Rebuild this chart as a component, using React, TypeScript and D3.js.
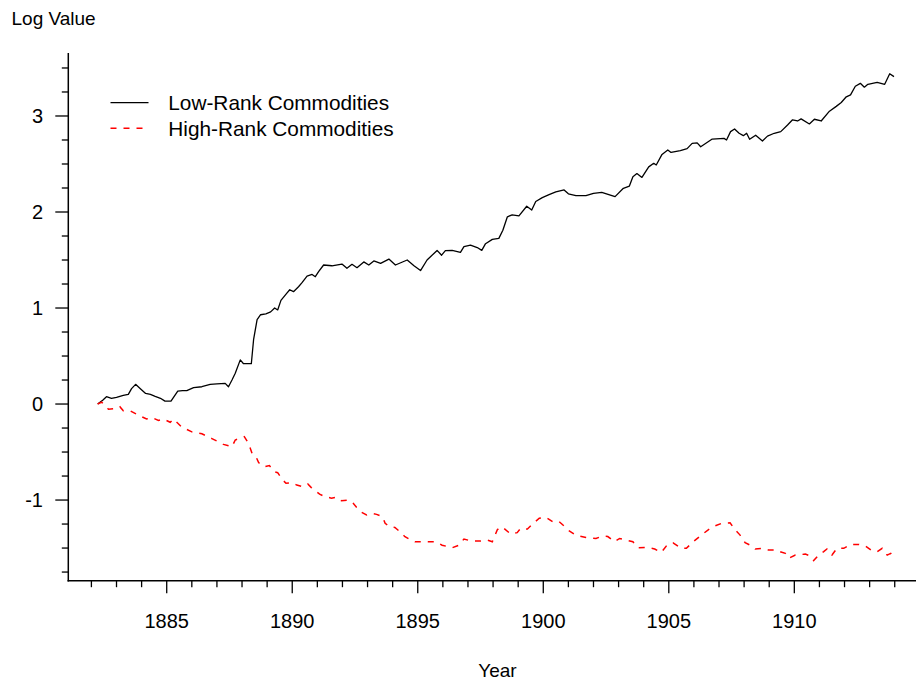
import React from "react";
import * as d3 from "d3";

const lowYears = [1882.25,1882.45,1882.6,1882.8,1883.0,1883.27,1883.47,1883.6,1883.76,1883.95,1884.16,1884.35,1884.54,1884.75,1884.93,1885.17,1885.44,1885.63,1885.8,1886.07,1886.4,1886.73,1887.0,1887.33,1887.46,1887.6,1887.73,1887.93,1888.06,1888.37,1888.46,1888.6,1888.74,1888.95,1889.14,1889.3,1889.42,1889.55,1889.77,1889.9,1890.05,1890.25,1890.39,1890.59,1890.79,1890.92,1891.05,1891.25,1891.58,1891.98,1892.18,1892.38,1892.58,1892.85,1893.05,1893.25,1893.52,1893.85,1894.11,1894.58,1894.85,1895.11,1895.37,1895.77,1895.95,1896.1,1896.37,1896.7,1896.84,1897.1,1897.37,1897.55,1897.7,1897.97,1898.23,1898.39,1898.57,1898.76,1899.03,1899.34,1899.54,1899.7,1899.96,1900.23,1900.5,1900.83,1901.0,1901.3,1901.7,1902.0,1902.33,1902.86,1903.19,1903.43,1903.57,1903.73,1903.93,1904.2,1904.4,1904.5,1904.73,1904.96,1905.09,1905.46,1905.73,1905.93,1906.13,1906.27,1906.73,1907.2,1907.3,1907.46,1907.62,1907.8,1907.97,1908.1,1908.22,1908.46,1908.73,1908.93,1909.2,1909.46,1909.73,1909.93,1910.13,1910.27,1910.6,1910.8,1911.07,1911.4,1911.67,1911.87,1912.07,1912.24,1912.43,1912.63,1912.79,1912.93,1913.3,1913.6,1913.8,1913.97];
const lowValues = [0,0.04,0.076,0.06,0.07,0.09,0.1,0.16,0.205,0.16,0.11,0.1,0.08,0.06,0.03,0.03,0.135,0.14,0.14,0.17,0.18,0.205,0.21,0.215,0.18,0.25,0.32,0.46,0.42,0.42,0.67,0.88,0.93,0.94,0.96,1.0,0.98,1.08,1.15,1.19,1.17,1.222,1.264,1.333,1.35,1.326,1.378,1.448,1.44,1.458,1.413,1.455,1.42,1.48,1.448,1.49,1.465,1.51,1.448,1.5,1.44,1.39,1.5,1.6,1.55,1.597,1.6,1.58,1.64,1.656,1.63,1.6,1.67,1.715,1.725,1.81,1.95,1.97,1.96,2.06,2.02,2.11,2.15,2.18,2.21,2.23,2.19,2.17,2.17,2.195,2.205,2.16,2.247,2.27,2.368,2.4,2.36,2.47,2.507,2.49,2.6,2.646,2.62,2.64,2.66,2.715,2.72,2.68,2.76,2.767,2.75,2.837,2.865,2.82,2.795,2.82,2.757,2.8,2.74,2.79,2.82,2.837,2.906,2.96,2.948,2.97,2.917,2.966,2.948,3.05,3.1,3.14,3.2,3.22,3.31,3.34,3.3,3.33,3.35,3.33,3.44,3.41];

const highYears = [1882.25,1882.41,1882.68,1883.07,1883.14,1883.27,1883.54,1883.94,1884.2,1884.4,1884.67,1884.87,1885.14,1885.27,1885.6,1886.0,1886.4,1886.8,1887.26,1887.6,1887.73,1887.89,1888.09,1888.26,1888.4,1888.56,1888.66,1888.89,1889.09,1889.29,1889.42,1889.62,1889.75,1890.02,1890.18,1890.42,1890.62,1890.76,1891.09,1891.3,1891.56,1891.76,1891.96,1892.23,1892.43,1892.56,1892.76,1892.96,1893.16,1893.36,1893.6,1893.7,1893.89,1894.09,1894.29,1894.49,1894.69,1894.89,1895.17,1895.7,1895.97,1896.37,1896.64,1896.84,1897.1,1897.5,1897.77,1897.97,1898.17,1898.3,1898.43,1898.7,1898.96,1899.1,1899.37,1899.57,1899.84,1900.1,1900.37,1900.61,1900.83,1900.97,1901.3,1901.7,1902.1,1902.37,1902.57,1902.84,1903.04,1903.3,1903.57,1903.77,1904.17,1904.44,1904.7,1904.9,1905.17,1905.5,1905.7,1905.97,1906.3,1906.57,1906.84,1907.1,1907.44,1907.64,1907.84,1908.04,1908.24,1908.44,1908.77,1908.97,1909.3,1909.44,1909.64,1909.77,1910.04,1910.44,1910.64,1910.77,1910.97,1911.17,1911.3,1911.5,1911.7,1911.97,1912.24,1912.57,1912.84,1913.1,1913.3,1913.5,1913.7,1913.84,1913.94];
const highValues = [0,0.02,-0.055,-0.045,-0.03,-0.07,-0.07,-0.125,-0.156,-0.14,-0.17,-0.156,-0.19,-0.156,-0.24,-0.29,-0.31,-0.36,-0.42,-0.445,-0.375,-0.357,-0.34,-0.41,-0.514,-0.55,-0.61,-0.653,-0.64,-0.705,-0.715,-0.79,-0.826,-0.82,-0.844,-0.86,-0.833,-0.87,-0.9375,-0.965,-0.98,-0.97,-1.007,-1.0,-1.034,-1.076,-1.128,-1.156,-1.139,-1.149,-1.174,-1.243,-1.278,-1.285,-1.33,-1.382,-1.41,-1.434,-1.434,-1.434,-1.47,-1.497,-1.47,-1.406,-1.424,-1.427,-1.417,-1.434,-1.31,-1.28,-1.295,-1.354,-1.34,-1.295,-1.302,-1.25,-1.19,-1.18,-1.226,-1.22,-1.27,-1.31,-1.365,-1.39,-1.4,-1.375,-1.38,-1.434,-1.4,-1.417,-1.434,-1.497,-1.493,-1.51,-1.545,-1.48,-1.445,-1.503,-1.503,-1.434,-1.365,-1.31,-1.27,-1.243,-1.236,-1.31,-1.365,-1.445,-1.47,-1.51,-1.503,-1.52,-1.52,-1.538,-1.555,-1.607,-1.573,-1.563,-1.583,-1.63,-1.573,-1.538,-1.51,-1.573,-1.503,-1.503,-1.462,-1.462,-1.48,-1.528,-1.538,-1.503,-1.573,-1.555,-1.59];

const yMajorTicks = [-1, 0, 1, 2, 3];
const yMinorTicks = [-1.75,-1.5,-1.25,-0.75,-0.5,-0.25,0.25,0.5,0.75,1.25,1.5,1.75,2.25,2.5,2.75,3.25,3.5];
const xMajorTicks = [1885, 1890, 1895, 1900, 1905, 1910];
const xMinorTicks = [1882,1883,1884,1886,1887,1888,1889,1891,1892,1893,1894,1896,1897,1898,1899,1901,1902,1903,1904,1906,1907,1908,1909,1911,1912,1913,1914];
const seriesNames = ["Low-Rank Commodities", "High-Rank Commodities"];

const W = 916, H = 684;
const FONT = "'Liberation Sans', Arial, Helvetica, sans-serif";

export default function App() {
  const x = d3.scaleLinear().domain([1881, 1915]).range([66.3, 919.84]);
  const y = d3.scaleLinear().domain([-1.84, 3.656]).range([580.7, 53]);
  const axisX = 68.3;
  const axisY = 580.7;
  const line = d3.line<[number, number]>().x(d => x(d[0])).y(d => y(d[1]));
  const lowPts = lowYears.map((t, i) => [t, lowValues[i]] as [number, number]);
  const highPts = highYears.map((t, i) => [t, highValues[i]] as [number, number]);

  return (
    <div style={{ position: "absolute", left: 0, top: 0 }}>
      <svg width={W} height={H} style={{ display: "block", background: "#fff" }} fontFamily={FONT}>
        <rect x={0} y={0} width={W} height={H} fill="#fff" />
        {/* axes */}
        <line x1={axisX} y1={53} x2={axisX} y2={axisY + 0.75} stroke="#000" strokeWidth={1.5} />
        <line x1={axisX - 0.75} y1={axisY} x2={W} y2={axisY} stroke="#000" strokeWidth={1.5} />
        {yMajorTicks.map(v => (
          <g key={"ym" + v}>
            <line x1={axisX - 13} x2={axisX} y1={y(v)} y2={y(v)} stroke="#000" strokeWidth={1.3} />
            <text x={43} y={y(v)} dy="0.36em" textAnchor="end" fontSize={20} fill="#000">{v}</text>
          </g>
        ))}
        {yMinorTicks.map(v => (
          <line key={"yn" + v} x1={axisX - 6.5} x2={axisX} y1={y(v)} y2={y(v)} stroke="#000" strokeWidth={1.3} />
        ))}
        {xMajorTicks.map(v => (
          <g key={"xm" + v}>
            <line x1={x(v)} x2={x(v)} y1={axisY} y2={axisY + 12.5} stroke="#000" strokeWidth={1.3} />
            <text x={x(v)} y={627.5} textAnchor="middle" fontSize={20} fill="#000">{v}</text>
          </g>
        ))}
        {xMinorTicks.map(v => (
          <line key={"xn" + v} x1={x(v)} x2={x(v)} y1={axisY} y2={axisY + 6.5} stroke="#000" strokeWidth={1.3} />
        ))}
        {/* axis titles */}
        <text x={11.5} y={25} fontSize={19} fill="#000">Log Value</text>
        <text x={497.5} y={676.5} textAnchor="middle" fontSize={19} fill="#000">Year</text>
        {/* series */}
        <path d={line(lowPts) || ""} fill="none" stroke="#000" strokeWidth={1.3} strokeLinejoin="round" />
        <path d={line(highPts) || ""} fill="none" stroke="#ff0000" strokeWidth={1.5} strokeDasharray="6,7" />
        {/* legend */}
        <line x1={110.5} x2={148.5} y1={102.7} y2={102.7} stroke="#000" strokeWidth={1.3} />
        <text x={168.3} y={110} fontSize={20.8} fill="#000">{seriesNames[0]}</text>
        <line x1={110.5} x2={148.5} y1={128.3} y2={128.3} stroke="#ff0000" strokeWidth={1.5} strokeDasharray="6,7" />
        <text x={168.3} y={135.6} fontSize={20.8} fill="#000">{seriesNames[1]}</text>
      </svg>
    </div>
  );
}
